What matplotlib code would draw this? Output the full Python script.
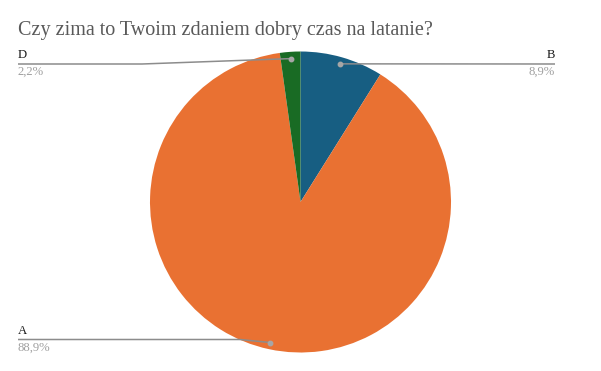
import numpy as np
import matplotlib
matplotlib.use("Agg")
import matplotlib.pyplot as plt

title = "Czy zima to Twoim zdaniem dobry czas na latanie?"
categories = ["B", "A", "D"]
values = [8.9, 88.9, 2.2]
pct_labels = ["8,9%", "88,9%", "2,2%"]
colors = ["#175e82", "#e97132", "#196b24"]

W, H = 601, 371
fig = plt.figure(figsize=(W / 100, H / 100), dpi=100)
ax = fig.add_axes([0, 0, 1, 1])

cx, cy, R = 300.5, 371 - 202, 150.5
wedges, _ = ax.pie(values, colors=colors, startangle=90, counterclock=False,
                   center=(cx, cy), radius=R, frame=True,
                   wedgeprops=dict(linewidth=0))
ax.set_xlim(0, W)
ax.set_ylim(0, H)
ax.set_aspect("equal")
ax.axis("off")

fig.text(18 / W, 1 - 30 / H, title, family="Liberation Serif", fontsize=14.5,
         color="#595959", va="center", ha="left")

# label layout: (text x, line y, align, elbow x)
layout = {
    "B": (555, 64, "right", None),
    "A": (18, 339.5, "left", 240),
    "D": (18, 64, "left", 142),
}
total = sum(values)
start = 90.0
for cat, v, pl in zip(categories, values, pct_labels):
    mid = start - v / total * 360 / 2
    start -= v / total * 360
    a = np.deg2rad(mid)
    dx, dy = cx + 0.955 * R * np.cos(a), cy + 0.955 * R * np.sin(a)
    tx, ly, ha, ex = layout[cat]
    ly_u = H - ly
    if ex is None:
        xs, ys = [dx, tx], [dy, ly_u]
    else:
        xs, ys = [dx, ex, tx], [dy, ly_u, ly_u]
    ax.plot(xs, ys, color="#8c8c8c", lw=1.1, solid_capstyle="butt", zorder=5)
    ax.plot([dx], [dy], "o", color="#a6a6a6", ms=3.2, zorder=6)
    ax.text(tx, ly_u + 3, cat, family="Liberation Serif", fontsize=9.2,
            color="#1a1a1a", ha=ha, va="bottom")
    ax.text(tx, ly_u - 2, pl, family="Liberation Serif", fontsize=9.2,
            color="#a0a0a0", ha=ha, va="top")

fig.savefig("out.png", dpi=100, facecolor="white")
